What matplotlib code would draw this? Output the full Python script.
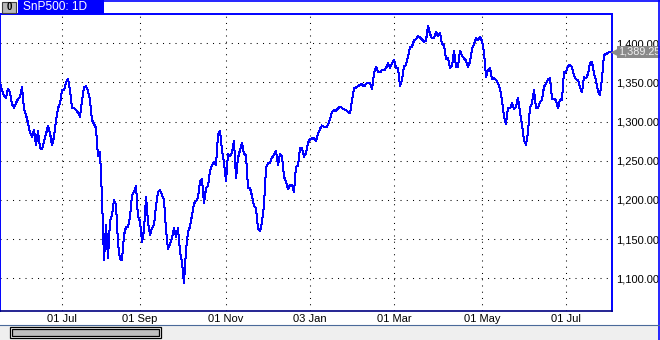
import numpy as np
import matplotlib
matplotlib.use("Agg")
import matplotlib.pyplot as plt
import matplotlib.transforms as mtransforms
from matplotlib.patches import Rectangle
from matplotlib.lines import Line2D

plt.rcParams['font.family'] = ['Liberation Sans', 'DejaVu Sans']

# daily closes, SnP500 (one value per bar)
closes = [
    1349.7, 1340.4, 1332.7, 1330.6, 1342.3, 1336.9, 1322.5, 1318.0, 1323.8, 1328.9,
    1331.1, 1344.6, 1316.1, 1308.5, 1298.3, 1286.1, 1280.8, 1289.3, 1270.2, 1288.0,
    1267.2, 1264.7, 1275.3, 1284.2, 1294.4, 1285.5, 1270.2, 1280.4, 1302.1, 1317.0,
    1323.4, 1339.8, 1340.0, 1350.6, 1354.4, 1340.4, 1317.4, 1317.0, 1314.9, 1311.7,
    1306.3, 1326.3, 1343.8, 1345.5, 1339.1, 1327.6, 1302.1, 1297.0, 1291.9, 1256.1,
    1261.2, 1203.2, 1123.4, 1168.0, 1125.9, 1173.2, 1180.8, 1200.0, 1193.6, 1145.1,
    1124.6, 1123.4, 1155.3, 1165.5, 1165.9, 1178.3, 1206.3, 1210.6, 1217.8, 1178.6,
    1173.2, 1146.3, 1161.7, 1204.2, 1172.3, 1155.3, 1164.2, 1168.0, 1192.3, 1210.6,
    1212.7, 1206.3, 1200.0, 1161.7, 1137.4, 1143.8, 1150.8, 1164.2, 1153.1, 1163.8,
    1134.0, 1120.8, 1093.6, 1136.1, 1159.1, 1165.9, 1180.8, 1195.5, 1198.7, 1202.5,
    1224.2, 1226.4, 1196.1, 1214.9, 1217.8, 1237.0, 1244.6, 1248.5, 1244.6, 1282.9,
    1288.4, 1263.8, 1247.2, 1224.2, 1258.7, 1256.1, 1260.0, 1275.3, 1228.0, 1253.6,
    1263.8, 1273.1, 1258.7, 1257.4, 1215.9, 1215.3, 1205.1, 1192.3, 1189.4, 1164.2,
    1159.8, 1172.3, 1193.6, 1240.8, 1247.2, 1247.6, 1254.2, 1257.4, 1262.5, 1244.6,
    1258.7, 1256.1, 1229.7, 1222.9, 1213.6, 1219.1, 1219.1, 1210.6, 1242.7, 1243.4,
    1266.3, 1266.3, 1255.2, 1260.0, 1272.7, 1277.8, 1278.5, 1278.7, 1275.3, 1284.2,
    1290.6, 1295.1, 1293.5, 1292.5, 1295.7, 1302.7, 1312.3, 1314.9, 1313.6, 1317.0,
    1319.3, 1317.4, 1315.7, 1314.5, 1312.7, 1310.6, 1326.3, 1342.6, 1343.6, 1345.5,
    1346.8, 1348.0, 1344.9, 1348.0, 1350.0, 1348.9, 1341.3, 1362.1, 1370.1, 1363.7,
    1362.7, 1365.9, 1365.5, 1368.1, 1374.5, 1368.5, 1374.5, 1378.7, 1368.5, 1368.1,
    1345.5, 1353.2, 1370.4, 1372.3, 1382.9, 1395.9, 1395.9, 1403.6, 1405.5, 1409.3,
    1407.4, 1405.1, 1401.7, 1403.3, 1422.1, 1411.9, 1406.4, 1406.8, 1414.8, 1409.3,
    1412.8, 1399.1, 1397.8, 1379.6, 1381.9, 1368.5, 1371.0, 1390.8, 1370.1, 1370.1,
    1390.6, 1384.4, 1380.6, 1378.1, 1369.8, 1376.5, 1392.7, 1399.1, 1406.8, 1403.6,
    1408.4, 1402.9, 1388.9, 1357.0, 1365.9, 1368.1, 1354.4, 1355.3, 1353.5, 1349.3,
    1341.7, 1327.6, 1306.3, 1297.0, 1317.4, 1316.8, 1323.4, 1316.1, 1319.1, 1330.8,
    1312.7, 1295.7, 1276.6, 1270.2, 1286.8, 1317.4, 1323.8, 1340.4, 1317.0, 1317.4,
    1325.1, 1327.6, 1344.6, 1348.7, 1353.8, 1355.7, 1328.9, 1328.9, 1327.6, 1316.8,
    1328.3, 1327.6, 1363.4, 1362.7, 1371.0, 1372.3, 1370.1, 1358.3, 1354.0, 1353.1,
    1343.6, 1337.2, 1357.0, 1355.3, 1360.8, 1375.2, 1375.8, 1361.7, 1352.5, 1338.2,
    1334.0, 1355.7, 1385.1, 1386.3, 1387.6, 1389.25,
]

# bar index of the first session of each labelled month
month_idx = [31, 70, 113, 155, 197, 241, 283]
month_labels = ["01 Jul", "01 Sep", "01 Nov", "03 Jan", "01 Mar", "01 May", "01 Jul"]
price_ticks = [1100, 1150, 1200, 1250, 1300, 1350, 1400]

W, H = 660, 340
BLUE = '#0000ff'
NAVY = '#000080'

fig = plt.figure(figsize=(W / 100, H / 100), dpi=100)
fig.patch.set_facecolor('white')


def box(x0, y0, x1, y1, **kw):
    # rectangle given in pixels from top-left of the figure
    r = Rectangle((x0 / W, 1 - y1 / H), (x1 - x0) / W, (y1 - y0) / H,
                  transform=fig.transFigure, **kw)
    fig.add_artist(r)
    return r


ax = fig.add_axes([0 / W, 29 / H, 612 / W, 297 / H])
x = np.arange(len(closes))
ax.plot(x, closes, color=BLUE, lw=0.72, antialiased=False)

ax.set_xlim(0, 306)
ax.set_ylim(1058.3, 1437.4)

ax.set_xticks(month_idx)
ax.set_xticklabels(month_labels)
ax.set_yticks(price_ticks)
ax.set_yticklabels([f"{v:,.2f}" for v in price_ticks])
ax.yaxis.tick_right()
ax.tick_params(axis='y', length=0, pad=2.6, labelsize=8, colors='black')
ax.tick_params(axis='x', length=0, pad=2.0, labelsize=8, colors='black')

ax.grid(True, color='black', linestyle=(0, (1, 5)), linewidth=0.75)
ax.set_axisbelow(True)

for side in ['left', 'top', 'right']:
    ax.spines[side].set_color(BLUE)
    ax.spines[side].set_linewidth(1.4)
ax.spines['bottom'].set_color(NAVY)
ax.spines['bottom'].set_linewidth(1.2)

# last price marker on the right
last = closes[-1]
ytrans = ax.get_yaxis_transform()
ax.annotate(f"{last:,.2f}", xy=(1, last), xycoords=ytrans,
            xytext=(4.4, 0), textcoords='offset points',
            ha='left', va='center', fontsize=7.8, color='#f2f2f2',
            bbox=dict(boxstyle='square,pad=0.1', fc='#8a8a8a', ec='none'),
            annotation_clip=False, zorder=5)
tri = mtransforms.offset_copy(ytrans, fig=fig, x=3.0, y=0, units='dots')
ax.plot([1], [last], marker='<', ms=6.5, color='#8a8a8a', mec='none',
        transform=tri, clip_on=False, zorder=5)

# window chrome: title tab, borders, scroll panel
box(18, 0, 104, 14, fc=BLUE, ec='none')
fig.text(23 / W, 1 - 7.5 / H, "SnP500: 1D", color='white', fontsize=8.6,
         ha='left', va='center')
box(2, 1.5, 16, 12.5, fc='#b8b8b8', ec='#404040', lw=0.8)
fig.text(9 / W, 1 - 7 / H, "0", color='black', fontsize=7, fontweight='bold',
         ha='center', va='center')
fig.add_artist(Line2D([104 / W, 1], [1 - 0.5 / H, 1 - 0.5 / H], color=BLUE, lw=1.2,
                      transform=fig.transFigure))
fig.add_artist(Line2D([1 - 1 / W, 1 - 1 / W], [0, 1], color=BLUE, lw=1.2,
                      transform=fig.transFigure))

box(0, 325, 659, 340, fc='#efefef', ec='none')
fig.add_artist(Line2D([0, 1 - 1 / W], [1 - 325 / H, 1 - 325 / H], color='#4a6a9a', lw=0.8,
                      transform=fig.transFigure))
box(10, 327, 161, 337.5, fc='white', ec='black', lw=0.9)
box(12, 329, 159, 335.5, fc='#c0c0c0', ec='black', lw=0.9)

fig.savefig("out.png", dpi=100)
